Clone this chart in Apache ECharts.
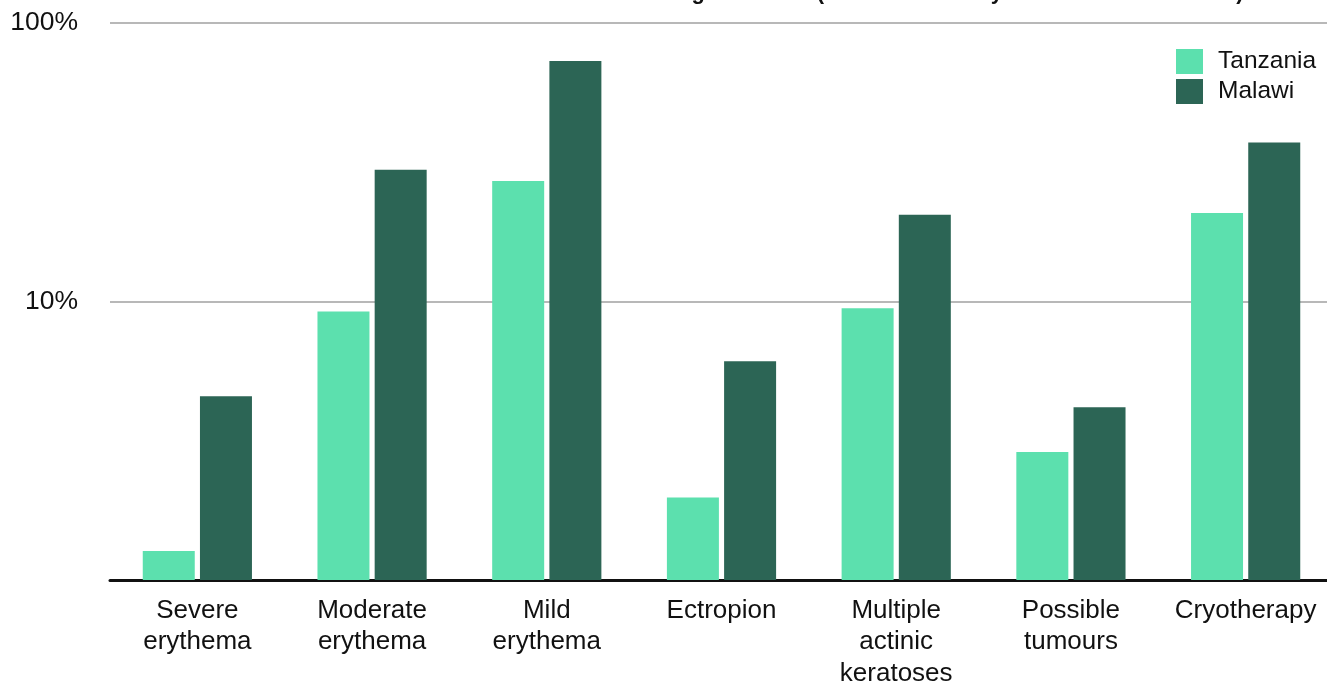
<!DOCTYPE html>
<html>
<head>
<meta charset="utf-8">
<script src="https://cdn.jsdelivr.net/npm/echarts@6/dist/echarts.min.js"></script>
<style>
  html, body { margin: 0; padding: 0; background: #fff; }
  #chart { width: 1327px; height: 684px; }
</style>
</head>
<body>
<div id="chart"></div>
<script>
// Share of participants with each finding, per country (log scale, %)
const categories = [
  'Severe\nerythema',
  'Moderate\nerythema',
  'Mild\nerythema',
  'Ectropion',
  'Multiple\nactinic\nkeratoses',
  'Possible\ntumours',
  'Cryotherapy'
];
const tanzania = [1.27, 9.2, 27.1, 1.98, 9.45, 2.88, 20.8];
const malawi   = [4.57, 29.7, 73.1, 6.1, 20.5, 4.17, 37.2];
const seriesNames = ['Tanzania', 'Malawi'];
const seriesColors = ['#5ce0ae', '#2c6555'];
const titleText = 'Skin reactions during treatment (seen at the study visit in both countries)';

const FONT = '"Liberation Sans", Arial, Helvetica, sans-serif';

const chart = echarts.init(document.getElementById('chart'), null, { renderer: 'canvas' });

chart.setOption({
  animation: false,
  backgroundColor: '#ffffff',
  title: {
    text: titleText,
    left: 476,
    top: -23,
    textStyle: { fontFamily: FONT, fontSize: 21.9, fontWeight: 'bold', color: '#111' }
  },
  legend: {
    orient: 'vertical',
    left: 1171,
    top: 44,
    itemWidth: 27,
    itemHeight: 25,
    itemGap: 5,
    icon: 'rect',
    data: seriesNames,
    textStyle: { fontFamily: FONT, fontSize: 24.5, color: '#111', padding: [0, 0, 0, 10] }
  },
  grid: { left: 110, right: -6, top: 23, bottom: 104, containLabel: false, outerBoundsMode: 'none' },
  xAxis: {
    type: 'category',
    data: categories,
    axisLine: { show: true, lineStyle: { color: '#111', width: 3 } },
    axisTick: { show: false },
    axisLabel: {
      fontFamily: FONT, fontSize: 26, color: '#111',
      lineHeight: 31.5, margin: 15, interval: 0
    },
    splitLine: { show: false }
  },
  yAxis: {
    type: 'log',
    logBase: 10,
    min: 1,
    max: 100,
    axisLine: { show: false },
    axisTick: { show: false },
    axisLabel: {
      fontFamily: FONT, fontSize: 26.5, color: '#111', margin: 32,
      formatter: v => (v === 1 ? '' : v + '%')
    },
    splitLine: { show: true, lineStyle: { color: '#b8b8b8', width: 2 } }
  },
  series: [
    {
      name: seriesNames[0],
      type: 'bar',
      data: tanzania,
      barWidth: 52,
      barGap: '10%',
      itemStyle: { color: seriesColors[0] }
    },
    {
      name: seriesNames[1],
      type: 'bar',
      data: malawi,
      barWidth: 52,
      barGap: '10%',
      itemStyle: { color: seriesColors[1] }
    }
  ]
});
</script>
</body>
</html>
